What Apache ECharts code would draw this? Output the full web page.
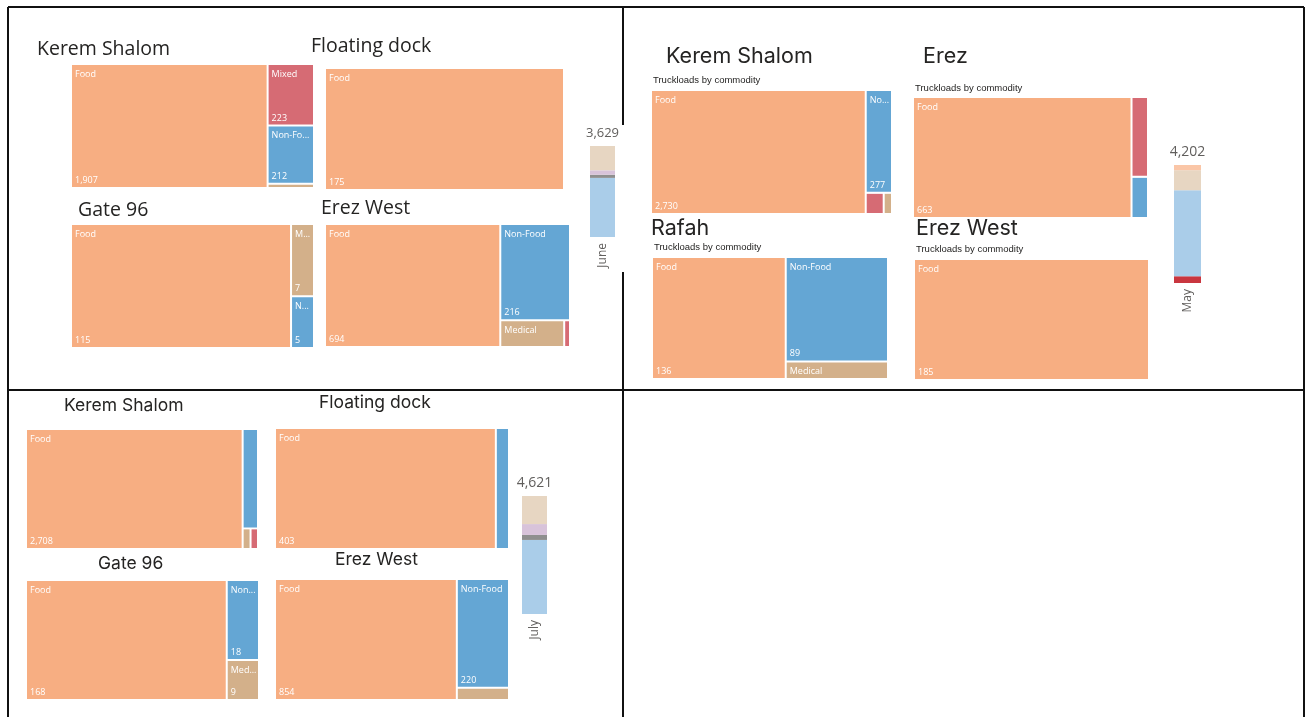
<!DOCTYPE html>
<html>
<head>
<meta charset="utf-8">
<script src="https://cdn.jsdelivr.net/npm/echarts@6/dist/echarts.min.js"></script>
<style>
html, body { margin: 0; padding: 0; background: #fff; }
#main { width: 1314px; height: 717px; }
</style>
</head>
<body>
<div id="main"></div>
<script>
var chart = echarts.init(document.getElementById('main'));

// commodity order used by every treemap array: Food, Mixed, Non-Food, Medical
var commodities = ['Food', 'Mixed', 'Non-Food', 'Medical'];
var commodityColors = ['#F7AE82', '#D66B74', '#64A6D4', '#D3B08A'];

// June truckloads by commodity
var juneKeremShalom = [1907, 223, 212, 15];
var juneFloatingDock = [175, 0, 0, 0];
var juneGate96 = [115, 0, 5, 7];
var juneErezWest = [694, 5, 216, 55];
// May
var mayKeremShalom = [2730, 39, 277, 18];
var mayErez = [663, 33, 17, 0];
var mayRafah = [136, 0, 89, 15];
var mayErezWest = [185, 0, 0, 0];
// July
var julyKeremShalom = [2708, 16, 159, 17];
var julyFloatingDock = [403, 0, 24, 0];
var julyGate96 = [168, 0, 18, 9];
var julyErezWest = [854, 0, 220, 25];

// monthly stacked bars, bottom -> top
var months = ['June', 'May', 'July'];
var monthTotals = [3629, 4202, 4621];
var juneCrossings = ['Kerem Shalom', 'Gate 96', 'Floating dock', 'Erez West'];
var juneByCrossing = [2357, 127, 175, 970];
var mayCrossings = ['Rafah', 'Kerem Shalom', 'Erez', 'Erez West'];
var mayByCrossing = [240, 3064, 713, 185];
var julyCrossings = ['Kerem Shalom', 'Gate 96', 'Floating dock', 'Erez West'];
var julyByCrossing = [2900, 195, 427, 1099];

var fmt = function (v) { return v.toLocaleString('en-US'); };
var labelFont = '9px "Open Sans"';

// panel placement on the page
var panels = [
  { title: 'Kerem Shalom', values: juneKeremShalom, box: [72, 65, 241, 122], tx: 37, ty: 49, size: 19.5, font: 'Open Sans' },
  { title: 'Floating dock', values: juneFloatingDock, box: [326, 69, 237, 120], tx: 311, ty: 46, size: 19.5, font: 'Open Sans' },
  { title: 'Gate 96', values: juneGate96, box: [72, 225, 241, 122], tx: 78, ty: 210, size: 19.5, font: 'Open Sans' },
  { title: 'Erez West', values: juneErezWest, box: [326, 225, 243, 121], tx: 321, ty: 208, size: 19.5, font: 'Open Sans' },
  { title: 'Kerem Shalom', values: mayKeremShalom, box: [652, 91, 239, 122], tx: 666, ty: 57, size: 21.5, font: 'Inter', sub: 80 },
  { title: 'Erez', values: mayErez, box: [914, 98, 233, 119], tx: 923, ty: 57, size: 21.5, font: 'Inter', sub: 88 },
  { title: 'Rafah', values: mayRafah, box: [653, 258, 234, 120], tx: 651, ty: 229, size: 21.5, font: 'Inter', sub: 247 },
  { title: 'Erez West', values: mayErezWest, box: [915, 260, 233, 119], tx: 916, ty: 229, size: 21.5, font: 'Inter', sub: 249 },
  { title: 'Kerem Shalom', values: julyKeremShalom, box: [27, 430, 230, 118], tx: 64, ty: 406, size: 17.5, font: 'Inter', ratio: 2 },
  { title: 'Floating dock', values: julyFloatingDock, box: [276, 429, 232, 119], tx: 319, ty: 403, size: 17.5, font: 'Inter' },
  { title: 'Gate 96', values: julyGate96, box: [27, 581, 231, 118], tx: 98, ty: 564, size: 17.5, font: 'Inter' },
  { title: 'Erez West', values: julyErezWest, box: [276, 580, 232, 119], tx: 335, ty: 560, size: 17.5, font: 'Inter' }
];

function leafData(values, labels) {
  var data = [];
  values.forEach(function (v, i) {
    if (v > 0) {
      var item = { name: commodities[i], value: v, itemStyle: { color: commodityColors[i] } };
      if (labels) {
        var t = labels[data.length];
        item.label = t ? { show: true, formatter: t } : { show: false };
      }
      data.push(item);
    }
  });
  return data;
}

function shorten(text, width) {
  if (echarts.format && echarts.format.truncateText) {
    return echarts.format.truncateText(text, width, labelFont, '...', { minChar: 1 });
  }
  return text;
}

var series = [];
var graphics = [];

panels.forEach(function (p) {
  series.push({
    type: 'treemap',
    left: p.box[0], top: p.box[1], width: p.box[2], height: p.box[3],
    roam: false, nodeClick: false,
    breadcrumb: { show: false },
    squareRatio: p.ratio || 0.5 * (1 + Math.sqrt(5)),
    itemStyle: { borderWidth: 0, gapWidth: 2, borderColor: '#fff' },
    label: {
      show: false, position: 'insideTopLeft', padding: [3, 1, 0, 3],
      fontSize: 9, lineHeight: 12, fontFamily: 'Open Sans', color: '#fff',
      formatter: '{b}', overflow: 'none'
    },
    emphasis: { disabled: true },
    data: leafData(p.values)
  });
  graphics.push({
    type: 'text', x: p.tx, y: p.ty,
    style: { text: p.title, fontSize: p.size, fontFamily: p.font, fill: '#252423', verticalAlign: 'middle' }
  });
  if (p.sub) {
    graphics.push({
      type: 'text', x: p.box[0] + 1, y: p.sub,
      style: { text: 'Truckloads by commodity', fontSize: 9.5, fontFamily: 'Liberation Sans', fill: '#252423', verticalAlign: 'middle' }
    });
  }
});

// stacked monthly bars
var barGrids = [
  { left: 590, top: 146, width: 25, height: 91 },
  { left: 1174, top: 165, width: 27, height: 118 },
  { left: 522, top: 496, width: 25, height: 118 }
];
var barSets = [
  { names: juneCrossings, values: juneByCrossing, colors: ['#AACDE9', '#8F8F8F', '#D8C3DA', '#E7D6C2'], labelSize: 13 },
  { names: mayCrossings, values: mayByCrossing, colors: ['#C9363F', '#AACDE9', '#E7D6C2', '#FAC6A7'], labelSize: 14 },
  { names: julyCrossings, values: julyByCrossing, colors: ['#AACDE9', '#8F8F8F', '#D8C3DA', '#E7D6C2'], labelSize: 14 }
];
var xAxes = [], yAxes = [];
barSets.forEach(function (set, m) {
  xAxes.push({
    gridIndex: m, type: 'category', data: [months[m]],
    axisLine: { show: false }, axisTick: { show: false },
    axisLabel: { rotate: 90, margin: 6, fontSize: 12, color: '#605E5C', fontFamily: 'Open Sans' }
  });
  yAxes.push({ gridIndex: m, type: 'value', show: false, min: 0, max: monthTotals[m], splitLine: { show: false } });
  set.values.forEach(function (v, k) {
    var s = {
      type: 'bar', name: set.names[k], xAxisIndex: m, yAxisIndex: m,
      stack: months[m], barWidth: '100%', data: [v],
      itemStyle: { color: set.colors[k] },
      emphasis: { disabled: true }
    };
    if (k === set.values.length - 1) {
      s.label = {
        show: true, position: 'top', distance: 6,
        formatter: fmt(monthTotals[m]), fontSize: set.labelSize,
        fontFamily: 'Open Sans', color: '#605E5C'
      };
    }
    series.push(s);
  });
});

// table borders around the three month panels
var borderLines = [
  [8, 7, 1304, 7], [8, 7, 8, 717], [1304, 7, 1304, 717],
  [623, 7, 623, 125], [623, 272, 623, 717], [8, 390, 1304, 390]
];
borderLines.forEach(function (l) {
  graphics.push({ type: 'line', shape: { x1: l[0], y1: l[1], x2: l[2], y2: l[3] }, style: { stroke: '#111', lineWidth: 2 } });
});

var option = {
  animation: false,
  backgroundColor: '#fff',
  tooltip: { show: false },
  grid: barGrids,
  xAxis: xAxes,
  yAxis: yAxes,
  graphic: { elements: graphics },
  series: series
};
chart.setOption(option);

// second pass: use the treemap layout to decide which cells get name / value labels
var model = chart.getModel();
var valueTexts = [];
var updated = [];
panels.forEach(function (p, si) {
  var root = model.getSeriesByIndex(si).getData().tree.root;
  var rl = root.getLayout() || { x: 0, y: 0 };
  var labels = [];
  root.children.forEach(function (node) {
    var l = node.getLayout();
    labels.push(l.width >= 19 && l.height >= 15 ? shorten(node.name, l.width - 3) : null);
    if (l.width >= 19 && l.height >= 34) {
      valueTexts.push({
        type: 'text', z: 100,
        x: p.box[0] + (rl.x || 0) + l.x + 3,
        y: p.box[1] + (rl.y || 0) + l.y + l.height - 2,
        style: { text: fmt(node.getValue()), fontSize: 9, fontFamily: 'Open Sans', fill: '#fff', verticalAlign: 'bottom' }
      });
    }
  });
  updated.push({ data: leafData(p.values, labels) });
});
chart.setOption({ series: updated, graphic: { elements: graphics.concat(valueTexts) } });
</script>
</body>
</html>
